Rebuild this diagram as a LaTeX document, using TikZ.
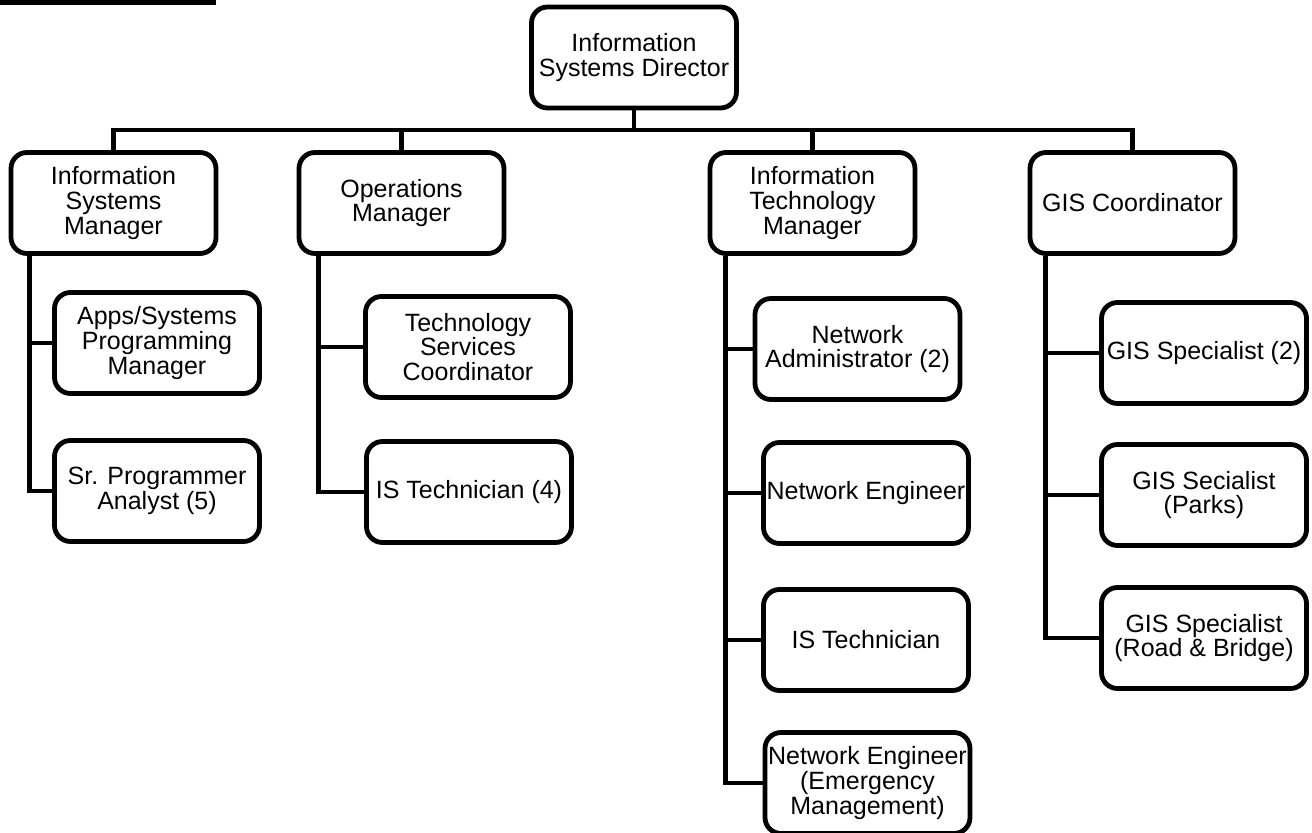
\documentclass[tikz,border=0pt]{standalone}
\usepackage{fontspec}
\setmainfont{Liberation Sans}

\tikzset{
	post/.style={draw, line width=2.4pt, rounded corners=8pt, align=center,
		minimum width=102.5pt, minimum height=50.5pt, inner sep=1.5pt,
		font=\fontsize{12.5}{12.3}\selectfont},
	link/.style={line width=2.4pt},
}

\begin{document}
\begin{tikzpicture}[x=0.5pt, y=-0.5pt]
	\useasboundingbox (0,0) rectangle (1312,833);
	\draw [link] (0,2.7) -- (216,2.7);

	% director and the four managers
	\node [post] (dir) at (634,57.5) {Information\\Systems Director};
	\node [post] (ism) at (113.5,203) {Information\\Systems\\Manager};
	\node [post] (om) at (401.5,203) {Operations\\Manager};
	\node [post] (itm) at (812.5,203) {Information\\Technology\\Manager};
	\node [post] (gis) at (1132.5,203) {GIS Coordinator};

	% staff under each manager
	\node [post] (apps) at (157,343) {Apps/Systems\\Programming\\Manager};
	\node [post] (sr) at (157,491) {Sr. Programmer\\Analyst (5)};
	\node [post] (tsc) at (468,347) {Technology\\Services\\Coordinator};
	\node [post] (ist4) at (469,492) {IS Technician (4)};
	\node [post] (nadm) at (857.5,349) {Network\\Administrator (2)};
	\node [post] (neng) at (866,493) {Network Engineer};
	\node [post] (istech) at (866,640) {IS Technician};
	\node [post] (neem) at (867.5,783) {Network Engineer\\(Emergency\\Management)};
	\node [post] (gis2) at (1204,353) {GIS Specialist (2)};
	\node [post] (parks) at (1204,495) {GIS Secialist\\(Parks)};
	\node [post] (road) at (1204,638) {GIS Specialist\\(Road \& Bridge)};

	% top level bus
	\coordinate (bus) at (634,130);
	\draw [link] (dir.south) -- (bus);
	\draw [link] (ism.north) |- (bus) -| (gis.north);
	\draw [link] (om.north) -- (om.north |- bus);
	\draw [link] (itm.north) -- (itm.north |- bus);

	% side stems
	\coordinate (ism-stem) at ([xshift=10.5pt]ism.south west);
	\coordinate (om-stem) at ([xshift=11pt]om.south west);
	\coordinate (itm-stem) at ([xshift=9pt]itm.south west);
	\coordinate (gis-stem) at ([xshift=9pt]gis.south west);
	\draw [link] (ism-stem) |- (apps.west);
	\draw [link] (ism-stem) |- (sr.west);
	\draw [link] (om-stem) |- (tsc.west);
	\draw [link] (om-stem) |- (ist4.west);
	\draw [link] (itm-stem) |- (nadm.west);
	\draw [link] (itm-stem) |- (neng.west);
	\draw [link] (itm-stem) |- (istech.west);
	\draw [link] (itm-stem) |- (neem.west);
	\draw [link] (gis-stem) |- (gis2.west);
	\draw [link] (gis-stem) |- (parks.west);
	\draw [link] (gis-stem) |- (road.west);
\end{tikzpicture}
\end{document}
